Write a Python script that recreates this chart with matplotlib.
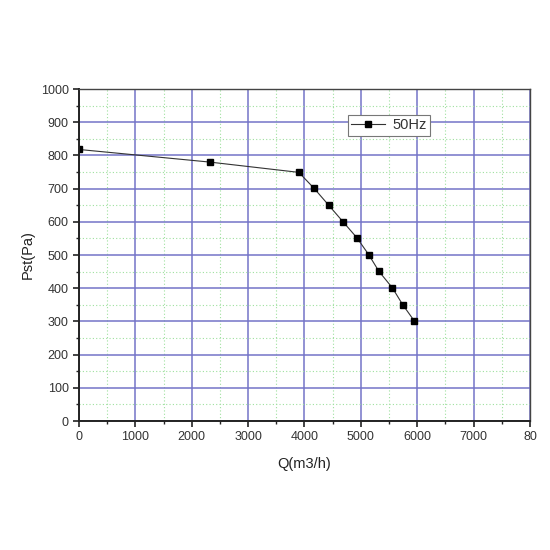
import matplotlib
matplotlib.use('Agg')
import matplotlib.pyplot as plt
import matplotlib.ticker as ticker

plt.rcParams['font.family'] = ['Liberation Sans', 'DejaVu Sans']

# 数据 (读自参考图)
flow = [0, 2320, 3900, 4170, 4430, 4690, 4930, 5140, 5320, 5560, 5740, 5950]
pressure = [818, 780, 749, 701, 650, 599, 552, 501, 451, 401, 351, 301]

x_ticks = [0, 1000, 2000, 3000, 4000, 5000, 6000, 7000, 8000]
x_tick_labels = ['0', '1000', '2000', '3000', '4000', '5000', '6000', '7000', '80']
y_ticks = [0, 100, 200, 300, 400, 500, 600, 700, 800, 900, 1000]

fig = plt.figure(figsize=(5.5, 5.5), dpi=100)
ax = fig.add_axes([0.1436, 0.2345, 0.82, 0.6036])

ax.plot(flow, pressure, color='#333333', linewidth=0.8, marker='s',
        markersize=4.5, markerfacecolor='black', markeredgecolor='black',
        label='50Hz')

ax.set_xlim(0, 8000)
ax.set_ylim(0, 1000)
ax.set_xticks(x_ticks)
ax.set_xticklabels(x_tick_labels)
ax.set_yticks(y_ticks)
ax.xaxis.set_minor_locator(ticker.MultipleLocator(500))
ax.yaxis.set_minor_locator(ticker.MultipleLocator(50))

ax.grid(True, which='major', color='#7474c8', linewidth=1.1)
ax.grid(True, which='minor', color='#9ee09e', linewidth=0.8, linestyle=(0, (1, 2)))
ax.set_axisbelow(True)

ax.tick_params(which='major', direction='out', length=4, width=1.2, labelsize=9,
               color='#222222', labelcolor='#333333')
ax.tick_params(which='minor', direction='out', length=2, width=1.0, color='#222222')
for side in ['left', 'bottom']:
    ax.spines[side].set_linewidth(1.4)
    ax.spines[side].set_color('#222222')
for side in ['right', 'top']:
    ax.spines[side].set_linewidth(1.0)
    ax.spines[side].set_color('#444444')

ax.set_xlabel('Q(m3/h)', fontsize=10.5, labelpad=10, color='#222222')
ax.set_ylabel('Pst(Pa)', fontsize=10.5, labelpad=4, color='#222222')

leg = ax.legend(loc='upper left', bbox_to_anchor=(0.58, 0.945), fontsize=10.5,
                fancybox=False, framealpha=1, edgecolor='#777777',
                handlelength=2.3, borderpad=0.25, handletextpad=0.5)
leg.get_frame().set_linewidth(0.8)
for t in leg.get_texts():
    t.set_color('#333333')

plt.savefig('out.png', dpi=100)
plt.close()
